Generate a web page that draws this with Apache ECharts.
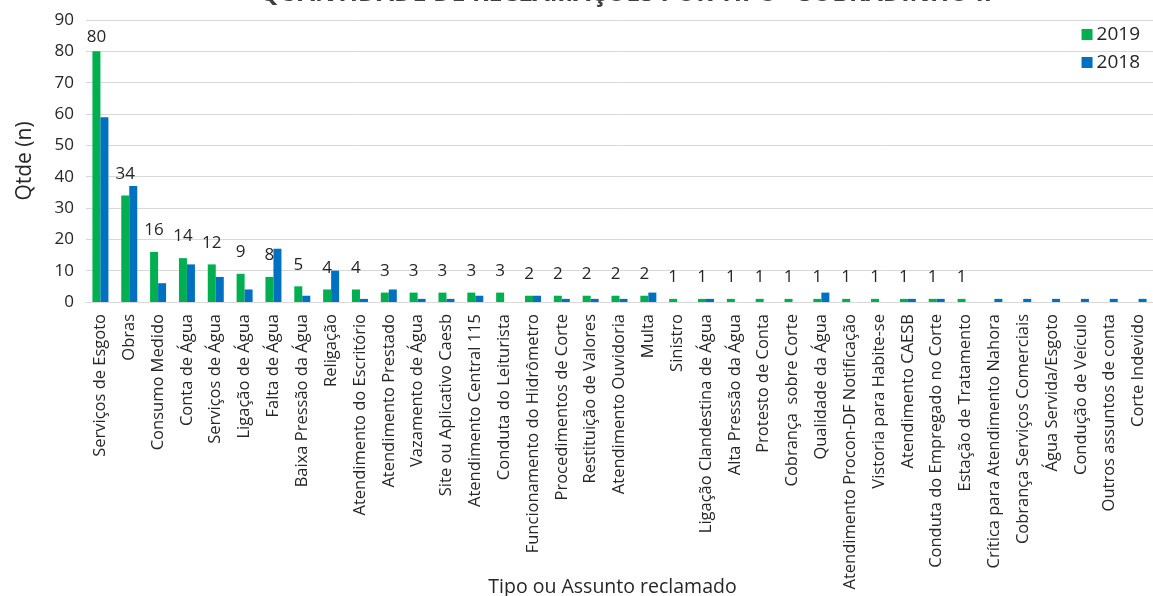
<!DOCTYPE html>
<html>
<head>
<meta charset="utf-8">
<script src="https://cdn.jsdelivr.net/npm/echarts@6/dist/echarts.min.js"></script>
<style>
  html, body { margin: 0; padding: 0; background: #fff; }
  #chart { width: 1153px; height: 596px; }
</style>
</head>
<body>
<div id="chart"></div>
<script>
// Complaint types, ordered by 2019 count
const categories = [
  'Serviços de Esgoto', 'Obras', 'Consumo Medido', 'Conta de Água', 'Serviços de Água',
  'Ligação de Água', 'Falta de Água', 'Baixa Pressão da Água', 'Religação',
  'Atendimento do Escritório', 'Atendimento Prestado', 'Vazamento de Água',
  'Site ou Aplicativo Caesb', 'Atendimento Central 115', 'Conduta do Leiturista',
  'Funcionamento do Hidrômetro', 'Procedimentos de Corte', 'Restituição de Valores',
  'Atendimento Ouvidoria', 'Multa', 'Sinistro', 'Ligação Clandestina de Água',
  'Alta Pressão da Água', 'Protesto de Conta', 'Cobrança  sobre Corte', 'Qualidade da Água',
  'Atendimento Procon-DF Notificação', 'Vistoria para Habite-se', 'Atendimento CAESB',
  'Conduta do Empregado no Corte', 'Estação de Tratamento', 'Crítica para Atendimento Nahora',
  'Cobrança Serviços Comerciais', 'Água Servida/Esgoto', 'Condução de Veículo',
  'Outros assuntos de conta', 'Corte Indevido'
];

const values2019 = [80, 34, 16, 14, 12, 9, 8, 5, 4, 4, 3, 3, 3, 3, 3, 2, 2, 2, 2, 2,
                    1, 1, 1, 1, 1, 1, 1, 1, 1, 1, 1, 0, 0, 0, 0, 0, 0];
const values2018 = [59, 37, 6, 12, 8, 4, 17, 2, 10, 1, 4, 1, 1, 2, 0, 2, 1, 1, 1, 3,
                    0, 1, 0, 0, 0, 3, 0, 0, 1, 1, 0, 1, 1, 1, 1, 1, 1];

const yTicks = { min: 0, max: 90, interval: 10 };

const FONT = 'Open Sans';
const max2019 = Math.max(...values2019);

// the tallest bar sits close to the top of the plot, so its label hugs it a bit more
const data2019 = values2019.map(v => v === max2019 ? { value: v, label: { distance: 6 } } : v);

const chart = echarts.init(document.getElementById('chart'));
chart.setOption({
  animation: false,
  textStyle: { fontFamily: FONT },
  title: {
    text: 'QUANTIDADE DE RECLAMAÇÕES POR TIPO - SOBRADINHO II',
    left: 254,
    top: -24,
    textStyle: { fontFamily: FONT, fontSize: 25, fontWeight: 'bold', color: '#404040' }
  },
  legend: {
    orient: 'vertical',
    right: 8,
    top: 20,
    itemWidth: 11,
    itemHeight: 11,
    itemGap: 9,
    icon: 'rect',
    textStyle: { fontFamily: FONT, fontSize: 19, color: '#262626', padding: [0, 0, 0, -1] },
    data: ['2019', '2018']
  },
  grid: {
    left: 86, right: 0, top: 20, bottom: 294,
    containLabel: false,
    outerBoundsMode: 'none'
  },
  xAxis: {
    type: 'category',
    data: categories,
    name: 'Tipo ou Assunto reclamado',
    nameLocation: 'middle',
    nameGap: 275,
    nameMoveOverlap: false,
    nameTextStyle: { fontFamily: FONT, fontSize: 19.5, color: '#262626', padding: [0, 14, 0, 0] },
    axisLine: { lineStyle: { color: '#d9d9d9', width: 1 } },
    axisTick: { show: false },
    axisLabel: {
      rotate: 90,
      interval: 0,
      margin: 12,
      fontFamily: FONT,
      fontSize: 16.5,
      color: '#262626'
    }
  },
  yAxis: {
    type: 'value',
    min: yTicks.min,
    max: yTicks.max,
    interval: yTicks.interval,
    name: 'Qtde (n)',
    nameLocation: 'middle',
    nameGap: 50,
    nameRotate: 90,
    nameMoveOverlap: false,
    nameTextStyle: { fontFamily: FONT, fontSize: 21, color: '#262626' },
    axisLine: { show: false },
    axisTick: { show: false },
    axisLabel: { fontFamily: FONT, fontSize: 17, color: '#262626', margin: 12 },
    splitLine: { lineStyle: { color: '#d9d9d9', width: 1 } }
  },
  series: [
    {
      name: '2019',
      type: 'bar',
      data: data2019,
      barWidth: 8,
      barGap: '0%',
      itemStyle: { color: '#00b050' },
      label: {
        show: true,
        position: 'top',
        distance: 13,
        fontFamily: FONT,
        fontSize: 17,
        color: '#262626',
        formatter: p => (p.value > 0 ? String(p.value) : '')
      }
    },
    {
      name: '2018',
      type: 'bar',
      data: values2018,
      barWidth: 8,
      barGap: '0%',
      itemStyle: { color: '#0070c0' }
    }
  ]
});
</script>
</body>
</html>
